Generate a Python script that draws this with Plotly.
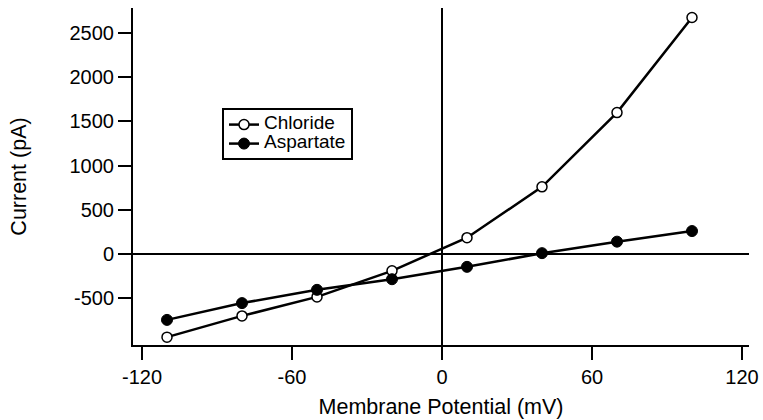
import plotly.graph_objects as go

# Membrane potential steps (mV) and measured whole-cell currents (pA)
potential_mv = [-110, -80, -50, -20, 10, 40, 70, 100]
chloride_pa = [-940, -700, -485, -190, 185, 760, 1600, 2675]
aspartate_pa = [-745, -555, -405, -285, -145, 10, 140, 260]

series_names = ["Chloride", "Aspartate"]

x_ticks = [-120, -60, 0, 60, 120]
x_tick_text = ["-120", "-60", "0", "60", "120"]
y_ticks = [-500, 0, 500, 1000, 1500, 2000, 2500]
y_tick_text = ["-500", "0", "500", "1000", "1500", "2000", "2500"]

FONT = "Liberation Sans, Arial, Helvetica, sans-serif"
LEGEND_TEXT_PX = 19


def legend_label(name):
    # Legend rows are spaced by the (small) legend font; the label itself is larger
    return f'<span style="font-size:{LEGEND_TEXT_PX}px">{name}</span>'


fig = go.Figure()
fig.add_trace(go.Scatter(
    x=potential_mv, y=chloride_pa, name=legend_label(series_names[0]),
    mode="lines+markers",
    line=dict(color="black", width=2.5),
    marker=dict(symbol="circle", size=10, color="white",
                line=dict(color="black", width=1.5)),
))
fig.add_trace(go.Scatter(
    x=potential_mv, y=aspartate_pa, name=legend_label(series_names[1]),
    mode="lines+markers",
    line=dict(color="black", width=2.5),
    marker=dict(symbol="circle", size=11, color="black",
                line=dict(color="black", width=1)),
))

fig.update_layout(
    width=763, height=420,
    margin=dict(l=133, r=14, t=8, b=75),
    paper_bgcolor="white", plot_bgcolor="white",
    font=dict(family=FONT, size=20, color="black"),
    showlegend=True,
    legend=dict(
        x=0.1445, y=0.703, xanchor="left", yanchor="top",
        bordercolor="black", borderwidth=2, bgcolor="white",
        font=dict(family=FONT, size=12, color="black"),
        itemwidth=30, tracegroupgap=0,
    ),
    xaxis=dict(
        range=[-123.6, 122.8], tickvals=x_ticks, ticktext=x_tick_text,
        showgrid=False, showline=True, linecolor="black", linewidth=2,
        ticks="outside", ticklen=13, tickwidth=2, tickcolor="black",
        zeroline=True, zerolinecolor="black", zerolinewidth=1.5,
        title=dict(text="Membrane Potential (mV)", standoff=12,
                   font=dict(family=FONT, size=21.5)),
        automargin=False,
    ),
    yaxis=dict(
        range=[-1029, 2783], tickvals=y_ticks, ticktext=y_tick_text,
        showgrid=False, showline=True, linecolor="black", linewidth=2,
        ticks="outside", ticklen=13, tickwidth=2, tickcolor="black",
        zeroline=True, zerolinecolor="black", zerolinewidth=2,
        title=dict(text="Current (pA)", standoff=37,
                   font=dict(family=FONT, size=21.5)),
        automargin=False,
    ),
)

fig.write_html("out.html")
